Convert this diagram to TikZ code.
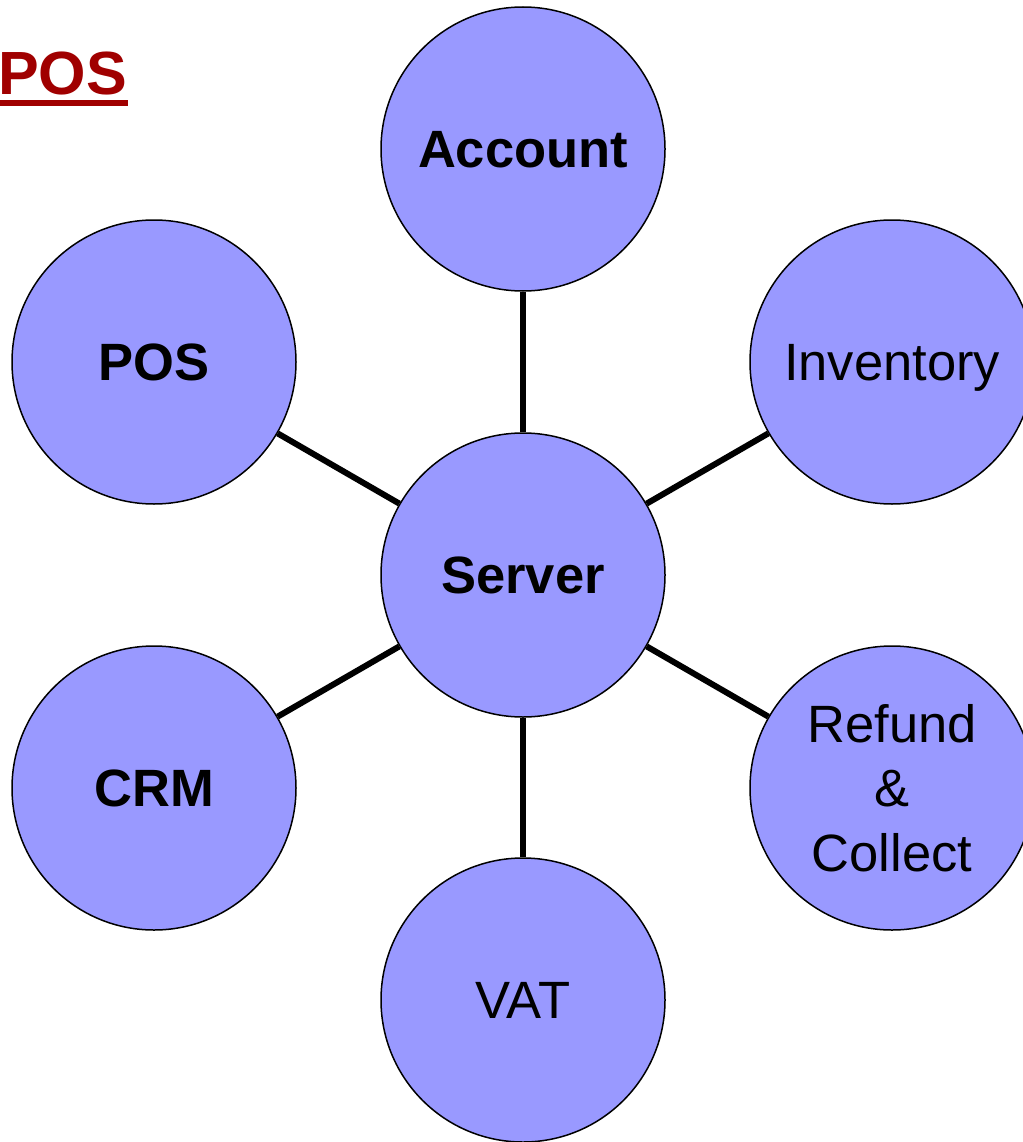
\documentclass[tikz,border=0pt]{standalone}
\usepackage{fontspec}
\setmainfont{Liberation Sans}
\definecolor{nodefill}{RGB}{153,153,255}
\definecolor{titlered}{RGB}{160,0,0}
\begin{document}
\begin{tikzpicture}[x=1pt,y=-1pt,
  bubble/.style={circle, draw=black, line width=1.5pt, fill=nodefill, minimum size=284pt, inner sep=0pt, align=center, font=\fontsize{52.5}{64.5}\selectfont},
  oneline/.style={text height=37.5pt, text depth=0pt},
  boldtext/.style={font=\fontsize{52.5}{64.5}\selectfont\bfseries},
  link/.style={line width=6pt, black}]
\useasboundingbox (0,0) rectangle (1022,1142);
\node[bubble, oneline, boldtext] (server) at (523,575) {Server};
\node[bubble, oneline, boldtext] (account) at (523,149) {Account};
\node[bubble, oneline] (inventory) at (892,362) {Inventory};
\node[bubble] (refund) at (892,788) {Refund\\\&\\Collect};
\node[bubble, oneline] (vat) at (523,1000) {VAT};
\node[bubble, oneline, boldtext] (crm) at (154,788) {CRM};
\node[bubble, oneline, boldtext] (pos) at (154,362) {POS};
\foreach \n in {account,inventory,refund,vat,crm,pos}
  \draw[link] (server) -- (\n);
\node[anchor=base west, inner sep=0pt, text=titlered, font=\fontsize{61}{72}\selectfont\bfseries] (title) at (-2,95) {POS};
\draw[titlered, line width=6pt] (title.base west) ++(2,8) -- ++(128,0);
\end{tikzpicture}
\end{document}
